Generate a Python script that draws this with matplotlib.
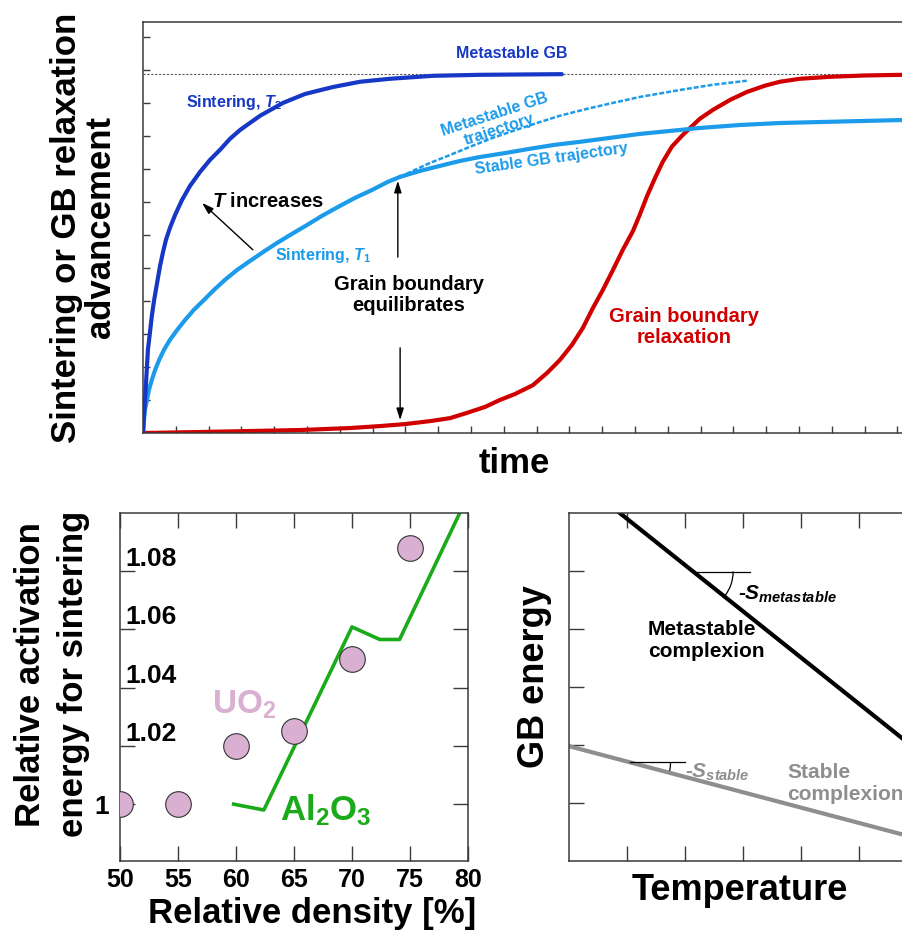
import numpy as np
import matplotlib.pyplot as plt
from matplotlib.patches import Arc

plt.rcParams['font.family'] = ['Liberation Sans', 'DejaVu Sans']
plt.rcParams['font.weight'] = 'bold'
plt.rcParams['axes.labelweight'] = 'bold'
plt.rcParams['mathtext.fontset'] = 'custom'
plt.rcParams['mathtext.rm'] = 'Liberation Sans:bold'
plt.rcParams['mathtext.bf'] = 'Liberation Sans:bold'
plt.rcParams['mathtext.it'] = 'Liberation Sans:italic:bold'

# ---- top panel: advancement vs time (arbitrary units, 1 = one tick) ----
t2_time = [0, 0.03, 0.06, 0.09, 0.12, 0.15, 0.21, 0.27, 0.34, 0.43, 0.52,
           0.61, 0.70, 0.82, 0.98, 1.19, 1.43, 1.74, 2.04, 2.35, 2.65, 2.96,
           3.57, 4.27, 4.94, 5.79, 6.62, 7.53, 8.84, 10.27, 11.49, 12.77]
t2_adv = [0, 0.52, 1.0, 1.48, 2.0, 2.52, 3.03, 3.55, 4.03, 4.55, 5.06,
          5.48, 5.85, 6.21, 6.61, 7.06, 7.48, 7.91, 8.27, 8.58, 8.91, 9.18,
          9.61, 10.0, 10.27, 10.48, 10.64, 10.73, 10.82, 10.85, 10.86, 10.87]

t1_time = [0, 0.03, 0.06, 0.12, 0.18, 0.27, 0.37, 0.49, 0.64, 0.82, 1.04,
           1.28, 1.55, 1.86, 2.16, 2.50, 2.87, 3.26, 3.66, 4.09, 4.54, 5.00,
           5.46, 5.95, 6.46, 6.98, 7.47, 7.84]
t1_adv = [0, 0.39, 0.70, 1.0, 1.30, 1.61, 1.91, 2.21, 2.52, 2.82, 3.12,
          3.42, 3.73, 4.03, 4.33, 4.64, 4.94, 5.21, 5.48, 5.76, 6.03, 6.30,
          6.58, 6.85, 7.12, 7.36, 7.61, 7.76]

stable_time = [7.84, 8.45, 9.05, 9.66, 10.27, 11.04, 11.80, 12.56, 13.32,
               14.24, 15.15, 16.07, 16.98, 18.20, 19.42, 20.64, 21.86, 23.14]
stable_adv = [7.76, 7.94, 8.09, 8.24, 8.36, 8.48, 8.61, 8.73, 8.82,
              8.94, 9.06, 9.15, 9.24, 9.33, 9.39, 9.42, 9.45, 9.48]

meta_time = [7.84, 8.29, 8.75, 9.36, 9.97, 10.58, 11.28, 12.01, 12.71,
             13.54, 14.33, 15.15, 16.37, 17.38, 18.41]
meta_adv = [7.76, 7.97, 8.18, 8.42, 8.67, 8.91, 9.15, 9.39, 9.61,
            9.82, 10.0, 10.18, 10.39, 10.55, 10.67]

relax_time = [0, 1.74, 3.26, 4.79, 6.31, 7.23, 7.99, 8.75, 9.36, 9.88,
              10.43, 10.88, 11.34, 11.89, 12.32, 12.71, 13.08, 13.41, 13.72,
              14.02, 14.33, 14.63, 14.94, 15.15, 15.37, 15.61, 15.85, 16.13,
              16.43, 16.68, 16.98, 17.38, 17.90, 18.41, 18.96, 19.42, 20.03,
              20.95, 22.01, 23.14]
relax_adv = [0, 0.03, 0.06, 0.09, 0.15, 0.21, 0.27, 0.36, 0.45, 0.61,
             0.79, 1.0, 1.18, 1.45, 1.82, 2.21, 2.67, 3.18, 3.79,
             4.33, 4.94, 5.55, 6.12, 6.62, 7.18, 7.72, 8.22, 8.68,
             9.0, 9.24, 9.52, 9.79, 10.09, 10.33, 10.52, 10.64, 10.73,
             10.79, 10.83, 10.85]

metastable_level = 10.87

# ---- bottom left: relative activation energy ----
uo2_density = [50, 55, 60, 65, 70, 75]
uo2_energy = [1.0, 1.0, 1.020, 1.025, 1.0497, 1.088]
al2o3_density = [59.8, 62.4, 70.0, 72.4, 74.1, 79.3]
al2o3_energy = [1.0, 0.998, 1.0608, 1.0565, 1.0565, 1.100]
density_ticks = [50, 55, 60, 65, 70, 75, 80]
energy_ticks = [1.0, 1.02, 1.04, 1.06, 1.08]
energy_labels = ['1', '1.02', '1.04', '1.06', '1.08']

# ---- bottom right: GB energy vs temperature ----
metastable_T = [0.85, 5.74]
metastable_G = [6.02, 2.12]
stable_T = [0.0, 5.74]
stable_G = [1.98, 0.46]

DARK_BLUE = '#1638c4'
LIGHT_BLUE = '#1c9bea'
RED = '#d00000'
GREEN = '#1aaa1a'
PINK = '#d9b0d2'
GRAY = '#8e8e8e'
SPINE = '#3a3a3a'


def style_axes(ax):
    for s in ax.spines.values():
        s.set_color(SPINE)
        s.set_linewidth(1.1)


def slope_mark(ax, xs, ys, x0, length, radius, color):
    y0 = np.interp(x0, xs, ys)
    ang = np.degrees(np.arctan2(ys[-1] - ys[0], xs[-1] - xs[0]))
    ax.plot([x0, x0 + length], [y0, y0], color=color, lw=0.9)
    ax.add_patch(Arc((x0, y0), 2 * radius, 2 * radius, theta1=ang, theta2=0,
                     color=color, lw=0.9))


fig = plt.figure(figsize=(9.02, 9.39), dpi=100)

# top panel
ax1 = fig.add_axes([143 / 902, 1 - 433 / 939, 774 / 902, 411 / 939])
style_axes(ax1)
ax1.set_xlim(0, 23.6)
ax1.set_ylim(0, 12.45)
ax1.set_xticks(np.arange(1, 24))
ax1.set_yticks(np.arange(1, 13))
ax1.tick_params(direction='in', length=5, width=1, color=SPINE,
                labelbottom=False, labelleft=False)
ax1.axhline(metastable_level, color='#555555', lw=0.8, ls=(0, (2, 1.5)))
kw = dict(lw=3, solid_joinstyle='round', solid_capstyle='round')
ax1.plot(relax_time, relax_adv, color=RED, **kw)
ax1.plot(meta_time, meta_adv, color=LIGHT_BLUE, lw=1.8, ls=(0, (2, 0.8)))
ax1.plot(stable_time, stable_adv, color=LIGHT_BLUE, **kw)
ax1.plot(t1_time, t1_adv, color=LIGHT_BLUE, **kw)
ax1.plot(t2_time, t2_adv, color=DARK_BLUE, **kw)

ax1.text(11.25, 11.5, 'Metastable GB', color=DARK_BLUE, fontsize=11.5,
         ha='center', va='center')
ax1.text(2.77, 10.0, 'Sintering, $T_2$', color=DARK_BLUE, fontsize=11.5,
         ha='center', va='center')
ax1.text(3.81, 7.0, '$T$ increases', color='black', fontsize=14.5,
         ha='center', va='center')
ax1.text(5.49, 5.39, 'Sintering, $T_1$', color=LIGHT_BLUE, fontsize=11.5,
         ha='center', va='center')
ax1.text(10.79, 9.42, 'Metastable GB\ntrajectory', color=LIGHT_BLUE,
         fontsize=11.5, ha='center', va='center', rotation=18,
         linespacing=1.0)
ax1.text(12.44, 8.30, 'Stable GB trajectory', color=LIGHT_BLUE, fontsize=11.5,
         ha='center', va='center', rotation=8)
ax1.text(8.11, 4.18, 'Grain boundary\nequilibrates', color='black',
         fontsize=14.5, ha='center', va='center', linespacing=1.15)
ax1.text(16.49, 3.21, 'Grain boundary\nrelaxation', color=RED,
         fontsize=14.5, ha='center', va='center', linespacing=1.15)
arrow = dict(arrowstyle='-|>,head_length=0.7,head_width=0.22', color='black',
             lw=1, shrinkA=0, shrinkB=0)
ax1.annotate('', xy=(1.80, 6.97), xytext=(3.35, 5.55), arrowprops=arrow)
ax1.annotate('', xy=(7.77, 7.64), xytext=(7.77, 5.33), arrowprops=arrow)
ax1.annotate('', xy=(7.84, 0.39), xytext=(7.84, 2.58), arrowprops=arrow)

ax1.set_ylabel('Sintering or GB relaxation\nadvancement', fontsize=25,
               linespacing=1.05)
ax1.yaxis.set_label_coords(-0.033, 0.5)
ax1.set_xlabel('time', fontsize=25)
ax1.xaxis.set_label_coords((514 - 143) / 774, -0.035)

# bottom left panel
ax2 = fig.add_axes([120 / 902, 1 - 861 / 939, 348 / 902, 348 / 939])
style_axes(ax2)
ax2.set_xlim(50, 80)
ax2.set_ylim(0.9805, 1.0999)
ax2.set_xticks(density_ticks)
ax2.set_yticks(energy_ticks, energy_labels)
ax2.tick_params(direction='in', length=10.5, width=1, color=SPINE,
                top=True, right=True)
ax2.tick_params(axis='x', labelsize=18, pad=5)
ax2.tick_params(axis='y', labelsize=19, pad=-41)
yt = ax2.yaxis.get_major_ticks()
yt[0].set_pad(8)
for t in yt[1:]:
    t.label1.set_verticalalignment('bottom')
ax2.plot(al2o3_density, al2o3_energy, color=GREEN, lw=2.6)
ax2.scatter(uo2_density, uo2_energy, s=340, color=PINK, edgecolor='#333333',
            linewidth=0.8, zorder=3)
ax2.text(57.9, 1.034, 'UO$_2$', color=PINK, fontsize=24, ha='left',
         va='center')
ax2.text(63.8, 0.998, 'Al$_2$O$_3$', color=GREEN, fontsize=25, ha='left',
         va='center')
ax2.set_ylabel('Relative activation\nenergy for sintering', fontsize=25,
               linespacing=1.4)
ax2.yaxis.set_label_coords(-0.086, 0.537)
ax2.set_xlabel('Relative density [%]', fontsize=25)
ax2.xaxis.set_label_coords(0.552, -0.103)

# bottom right panel
ax3 = fig.add_axes([569 / 902, 1 - 861 / 939, 348 / 902, 348 / 939])
style_axes(ax3)
ax3.set_xlim(0, 6)
ax3.set_ylim(0, 6)
ax3.set_xticks(np.arange(1, 6))
ax3.set_yticks(np.arange(1, 6))
ax3.tick_params(direction='in', length=10.5, width=1, color=SPINE,
                top=True, right=True, labelbottom=False, labelleft=False)
ax3.plot(metastable_T, metastable_G, color='black', lw=3)
ax3.plot(stable_T, stable_G, color=GRAY, lw=3)
slope_mark(ax3, metastable_T, metastable_G, 2.14, 0.98, 0.69, 'black')
slope_mark(ax3, stable_T, stable_G, 1.06, 0.94, 0.69, 'black')
ax3.text(2.91, 4.59, '-$S_{metastable}$', color='black', fontsize=15,
         style='italic', ha='left', va='center')
ax3.text(2.0, 1.53, '-$S_{stable}$', color=GRAY, fontsize=15,
         style='italic', ha='left', va='center')
ax3.text(1.36, 3.81, 'Metastable\ncomplexion', color='black', fontsize=15,
         ha='left', va='center', linespacing=1.2)
ax3.text(3.76, 1.34, 'Stable\ncomplexion', color=GRAY, fontsize=15,
         ha='left', va='center', linespacing=1.2)
ax3.set_ylabel('GB energy', fontsize=26)
ax3.yaxis.set_label_coords(-0.049, 0.529)
ax3.set_xlabel('Temperature', fontsize=26)
ax3.xaxis.set_label_coords(0.491, -0.035)

fig.savefig('out.png', dpi=100)
